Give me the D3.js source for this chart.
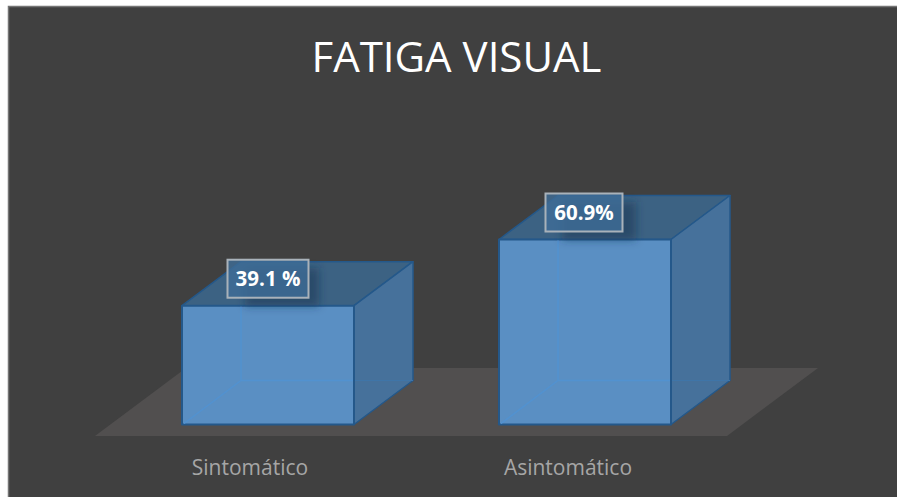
<!DOCTYPE html>
<html><head><meta charset="utf-8">
<style>html,body{margin:0;padding:0;background:#fff}svg{display:block}</style>
<script src="https://cdn.jsdelivr.net/npm/d3@7"></script></head>
<body><svg id="c" width="897" height="497"></svg>
<script>
const categories = ["Sintomático", "Asintomático"];
const values = [39.1, 60.9];
const valueLabels = ["39.1 %", "60.9%"];
const titleText = "FATIGA VISUAL";

const svg = d3.select("#c");
const font = "'Open Sans', sans-serif";
const defs = svg.append("defs");
defs.append("filter").attr("id","sh").attr("x","-40%").attr("y","-40%").attr("width","180%").attr("height","180%")
  .append("feGaussianBlur").attr("stdDeviation",4);

svg.append("rect").attr("x",8.5).attr("y",6.5).attr("width",900).attr("height",500)
  .attr("fill","#404040").attr("stroke","#757575").attr("stroke-width",1.5);

const x = d3.scaleBand().domain(categories).range([182,671]).paddingInner(0.4574).paddingOuter(0);
const y = d3.scaleLinear().domain([0,60.9]).range([424.5,239.5]);
const depth = {dx:59, dy:-44};

// floor
const floorFront = 436, floorBack = 368;
svg.append("polygon").attr("fill","#514f4f")
  .attr("points",[[95,floorFront],[727,floorFront],[818,floorBack],[186,floorBack]].join(" "));

const edge = "#24588a";
const g = svg.selectAll("g.bar").data(categories.map((c,i)=>({c,v:values[i],l:valueLabels[i]}))).join("g").attr("class","bar");
const poly = (pts)=>pts.map(p=>p.join(",")).join(" ");

g.each(function(d){
  const s = d3.select(this);
  const x0=x(d.c), x1=x0+x.bandwidth(), yt=y(d.v), yb=y(0), {dx,dy}=depth;
  s.append("polygon").attr("points",poly([[x0,yt],[x1,yt],[x1+dx,yt+dy],[x0+dx,yt+dy]]))
    .attr("fill","#3c6283").attr("stroke",edge).attr("stroke-width",1.5).attr("stroke-linejoin","round");
  s.append("polygon").attr("points",poly([[x1,yt],[x1+dx,yt+dy],[x1+dx,yb+dy],[x1,yb]]))
    .attr("fill","#46719b").attr("stroke",edge).attr("stroke-width",1.5).attr("stroke-linejoin","round");
  s.append("polygon").attr("points",poly([[x0,yt],[x1,yt],[x1,yb],[x0,yb]]))
    .attr("fill","#5a8fc3").attr("stroke",edge).attr("stroke-width",2).attr("stroke-linejoin","round");
  // faint inner lines seen through the front face
  s.append("path").attr("d",`M${x0+dx},${yt+1}V${yb+dy}M${x0+2},${yb-1}L${x0+dx},${yb+dy}H${x1-1}`)
    .attr("fill","none").attr("stroke","#5292d0").attr("stroke-width",1.5);
  s.append("path").attr("d",`M${x1+1},${yb+dy}H${x1+dx}`).attr("fill","none").attr("stroke","#3f75a8").attr("stroke-width",1.2);
  // label shadow, label box and text
  const lx = x0+45, ly = yt-45.5;
  s.append("rect").attr("x",lx+18).attr("y",ly+8).attr("width",74).attr("height",38)
    .attr("fill","#16324e").attr("fill-opacity",0.5).attr("filter","url(#sh)");
  const spaced = d.l.includes(" ");
  const w = spaced?81:77, h=38, bx = lx+(spaced?0.5:1.5);
  s.append("rect").attr("x",bx).attr("y",ly-0.5).attr("width",w).attr("height",h)
    .attr("fill","#3f6d97").attr("fill-opacity",0.8).attr("stroke","#a9b2ba").attr("stroke-width",2);
  s.append("text").attr("x",bx+w/2).attr("y",ly+h/2+6.5)
    .attr("text-anchor","middle").attr("font-family",font).attr("font-weight",700).attr("font-size",20.5)
    .attr("fill","#fff").text(d.l);
  // category
  s.append("text").attr("x",x0+x.bandwidth()/2 - 18 + (d.c==="Asintomático"?1:0)).attr("y",475)
    .attr("text-anchor","middle").attr("font-family",font).attr("font-size",21)
    .attr("fill","#a6a6a6").text(d.c);
});

svg.append("text").attr("x",456.5).attr("y",72).attr("text-anchor","middle")
  .attr("font-family",font).attr("font-size",42).attr("fill","#fff").text(titleText);
</script></body></html>
